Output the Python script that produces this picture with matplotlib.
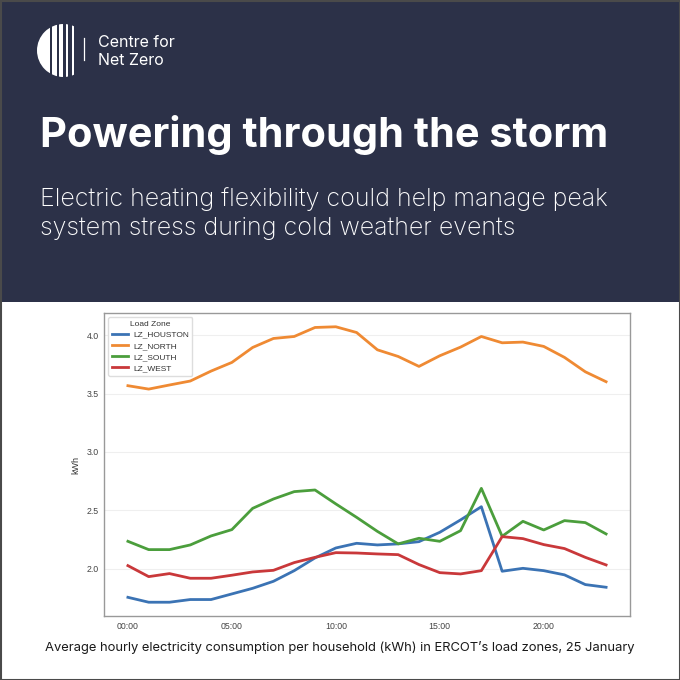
import matplotlib
matplotlib.use('Agg')
import matplotlib.pyplot as plt
from matplotlib.patches import Rectangle, Circle

# 데이터 (25 January, hourly average kWh per household)
hours = list(range(24))
tick_hours = [0, 5, 10, 15, 20]
tick_labels = ['00:00', '05:00', '10:00', '15:00', '20:00']
zones = ['LZ_HOUSTON', 'LZ_NORTH', 'LZ_SOUTH', 'LZ_WEST']

houston = [1.757, 1.715, 1.715, 1.738, 1.738, 1.786, 1.834, 1.894, 1.985, 2.094,
           2.179, 2.219, 2.205, 2.214, 2.233, 2.313, 2.419, 2.532, 1.980, 2.005,
           1.985, 1.949, 1.866, 1.843]
north = [3.567, 3.538, 3.573, 3.607, 3.692, 3.766, 3.894, 3.971, 3.988, 4.065,
         4.071, 4.022, 3.874, 3.817, 3.732, 3.823, 3.897, 3.988, 3.934, 3.940,
         3.903, 3.809, 3.686, 3.601]
south = [2.236, 2.165, 2.165, 2.205, 2.282, 2.336, 2.518, 2.598, 2.661, 2.675,
         2.556, 2.441, 2.321, 2.214, 2.262, 2.236, 2.327, 2.689, 2.279, 2.407,
         2.333, 2.413, 2.396, 2.299]
west = [2.028, 1.934, 1.960, 1.920, 1.920, 1.946, 1.974, 1.988, 2.054, 2.099,
        2.139, 2.136, 2.128, 2.122, 2.037, 1.968, 1.957, 1.985, 2.276, 2.259,
        2.208, 2.174, 2.099, 2.034]

series = [houston, north, south, west]
colors = ['#3b73b4', '#ef8a33', '#4b9e3c', '#c9383a']

NAVY = '#2c3148'
W, H = 680, 680

fig = plt.figure(figsize=(6.8, 6.8), dpi=100)
fig.patch.set_facecolor('white')

# 배경/헤더용 전체 축 (픽셀 좌표)
bg = fig.add_axes([0, 0, 1, 1])
bg.set_xlim(0, W)
bg.set_ylim(H, 0)
bg.axis('off')
bg.add_patch(Rectangle((0, 0), W, 302, facecolor=NAVY, edgecolor='none'))
bg.add_patch(Rectangle((0.5, 0.5), W - 1, H - 1, facecolor='none', edgecolor='#4a4a4a', linewidth=1.5))

# 로고: 줄무늬 원
circ = Circle((63.5, 50.5), 26.5, transform=bg.transData)
stripes = [(37, 50.3), (52.3, 56.7), (59.3, 62.7), (65.7, 68.3), (71.7, 74.0)]
for x0, x1 in stripes:
    r = Rectangle((x0, 20), x1 - x0, 62, facecolor='white', edgecolor='none')
    bg.add_patch(r)
    r.set_clip_path(circ)
bg.plot([84.3, 84.3], [38, 60], color='white', linewidth=0.9)

logo_font = 'Inter'
bg.text(97.5, 47.3, 'Centre for', color='white', fontsize=11.5, family=logo_font, va='baseline')
bg.text(97.5, 65, 'Net Zero', color='white', fontsize=11.5, family=logo_font, va='baseline')

renderer = fig.canvas.get_renderer()


def fit_text(t, target_px):
    """텍스트 폭을 목표 픽셀에 맞춥니다."""
    for _ in range(3):
        w = t.get_window_extent(renderer=renderer).width
        t.set_fontsize(t.get_fontsize() * target_px / w)


title = bg.text(40, 146.7, 'Powering through the storm', color='white', fontsize=28,
                family='Inter', fontweight='bold', va='baseline')
fit_text(title, 568)

sub1 = bg.text(40, 206, 'Electric heating flexibility could help manage peak', color='white',
               fontsize=16, family='Inter', fontweight='light', va='baseline')
fit_text(sub1, 568)
sub2 = bg.text(40, 235, 'system stress during cold weather events', color='white',
               fontsize=sub1.get_fontsize(), family='Inter', fontweight='light', va='baseline')

cap = bg.text(340, 651, 'Average hourly electricity consumption per household (kWh) in ERCOT\u2019s load zones, 25 January',
              color='#1a1a1a', fontsize=10, family='Inter', ha='center', va='baseline')
fit_text(cap, 590)

# 차트
ax = fig.add_axes([104 / W, 1 - 616 / H, (630 - 104) / W, (616 - 313) / H])
for vals, name, c in zip(series, zones, colors):
    ax.plot(hours, vals, color=c, linewidth=2.0, label=name)

ax.set_xticks(tick_hours)
ax.set_xticklabels(tick_labels)
ax.set_yticks([2.0, 2.5, 3.0, 3.5, 4.0])
ax.tick_params(axis='both', length=0, labelsize=6.3, labelcolor='#444444', pad=4)
for lab in ax.get_xticklabels() + ax.get_yticklabels():
    lab.set_family('Liberation Sans')
ax.set_ylabel('kWh', fontsize=6.5, color='#333333', family='Liberation Sans', labelpad=4)
ax.yaxis.grid(True, color='#efefef', linewidth=0.8)
ax.set_axisbelow(True)
for s in ax.spines.values():
    s.set_color('#999999')
    s.set_linewidth(1.0)

leg = ax.legend(title='Load Zone', loc='upper left', title_fontsize=6.0,
                labelspacing=0.4, handlelength=2.0, handletextpad=0.6, borderpad=0.4,
                framealpha=1, edgecolor='#dddddd', fancybox=True,
                prop={'family': 'Liberation Sans', 'size': 6.0})
leg.get_title().set_family('Liberation Sans')
leg.get_title().set_color('#333333')
for t in leg.get_texts():
    t.set_color('#333333')

fig.savefig('out.png', dpi=100)
